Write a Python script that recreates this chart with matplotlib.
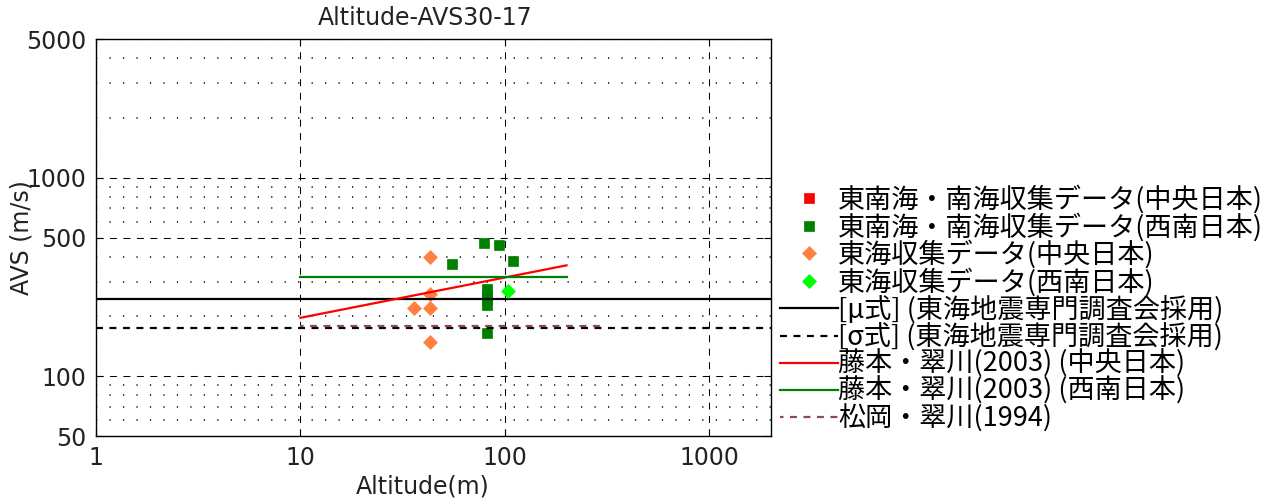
import matplotlib
matplotlib.use("Agg")
import matplotlib.pyplot as plt
from matplotlib.ticker import FixedLocator, FixedFormatter, LogLocator, NullFormatter
from matplotlib.font_manager import FontProperties

plt.rcParams['font.family'] = ['DejaVu Sans']
plt.rcParams['lines.scale_dashes'] = False

# --- data ---
tonankai_chubu_x = []            # 東南海・南海収集データ(中央日本) - legend only
tonankai_chubu_y = []
tonankai_seinan_x = [79, 93, 55, 110, 82, 82, 82, 82, 82]
tonankai_seinan_y = [470, 460, 366, 380, 276, 258, 243, 229, 166]
tokai_chubu_x = [43, 43, 36, 43, 43]
tokai_chubu_y = [397, 261, 221, 221, 148]
tokai_seinan_x = [103]
tokai_seinan_y = [268]

mu_avs = 246
sigma_avs = 175
fuji_chubu_x = [10, 200]
fuji_chubu_y = [197, 362]
fuji_seinan_x = [10, 200]
fuji_seinan_y = [315, 315]
matsuoka_x = [10, 300]
matsuoka_y = [179, 179]

x_ticks = [1, 10, 100, 1000]
y_ticks = [50, 100, 500, 1000, 5000]

labels = [
    "東南海・南海収集データ(中央日本)",
    "東南海・南海収集データ(西南日本)",
    "東海収集データ(中央日本)",
    "東海収集データ(西南日本)",
    "[μ式] (東海地震専門調査会採用)",
    "[σ式] (東海地震専門調査会採用)",
    "藤本・翠川(2003) (中央日本)",
    "藤本・翠川(2003) (西南日本)",
    "松岡・翠川(1994)",
]

DASH = (0, (5, 4.7))
DOT = (0, (0.9, 8.8))

fig = plt.figure(figsize=(12.79, 5.04), dpi=100)
ax = fig.add_axes([96 / 1279, 68 / 504, 675 / 1279, 397 / 504])

ax.set_xscale("log")
ax.set_yscale("log")
ax.set_xlim(1, 2000)
ax.set_ylim(50, 5000)

h = []
h += ax.plot(tonankai_chubu_x, tonankai_chubu_y, "s", color="#ff0000", ms=7.5, mew=0.5)
h += ax.plot(tonankai_seinan_x, tonankai_seinan_y, "s", color="#008000", ms=7.5, mew=0.5, zorder=3)
h += ax.plot(tokai_chubu_x, tokai_chubu_y, "D", color="#ff8040", ms=7, mew=0.5, zorder=2)
h += ax.plot(tokai_seinan_x, tokai_seinan_y, "D", color="#00ff00", ms=7, mew=0.5, zorder=4)
h.append(ax.axhline(mu_avs, color="k", lw=1.6, zorder=3))
h.append(ax.axhline(sigma_avs, color="k", lw=1.6, ls=DASH, zorder=3))
h += ax.plot(fuji_chubu_x, fuji_chubu_y, color="#ff0000", lw=1.6, zorder=3)
h += ax.plot(fuji_seinan_x, fuji_seinan_y, color="#008000", lw=1.6, zorder=3)
h += ax.plot(matsuoka_x, matsuoka_y, color="#8b4c4c", lw=1.6, ls=(2.5, (5, 4.7)), zorder=3.5)

ax.xaxis.set_major_locator(FixedLocator(x_ticks))
ax.xaxis.set_major_formatter(FixedFormatter([str(v) for v in x_ticks]))
ax.xaxis.set_minor_locator(FixedLocator([]))
ax.yaxis.set_major_locator(FixedLocator(y_ticks))
ax.yaxis.set_major_formatter(FixedFormatter([str(v) for v in y_ticks]))
ax.yaxis.set_minor_locator(LogLocator(base=10, subs=range(2, 10)))
ax.yaxis.set_minor_formatter(NullFormatter())

ax.grid(which="major", axis="both", color="k", lw=0.75, ls=DASH)
ax.grid(which="minor", axis="y", color="k", lw=1.1, ls=DOT)
ax.set_axisbelow(True)

ax.tick_params(which="major", direction="in", length=5, width=0.8, labelsize=17,
               top=True, right=True, pad=7, labelcolor="#222222")
ax.tick_params(which="minor", length=0)
for s in ax.spines.values():
    s.set_linewidth(1.0)

ax.set_title("Altitude-AVS30-17", fontsize=17, x=0.487, pad=10, color="#222222")
ax.set_xlabel("Altitude(m)", fontsize=17, color="#222222")
ax.xaxis.set_label_coords(0.484, -0.098)
ax.set_ylabel("AVS (m/s)", fontsize=17, color="#222222")
ax.yaxis.set_label_coords(-0.093, 0.5)

leg_font = FontProperties(family=["Noto Sans CJK JP", "DejaVu Sans"], size=19.5)
fig.legend(h, labels, loc="upper left", bbox_to_anchor=(780 / 1279, 1 - 185 / 504),
           frameon=False, prop=leg_font, handlelength=2.15, handletextpad=0.0,
           borderpad=0, borderaxespad=0, labelspacing=-0.04)

fig.savefig("out.png", dpi=100)
